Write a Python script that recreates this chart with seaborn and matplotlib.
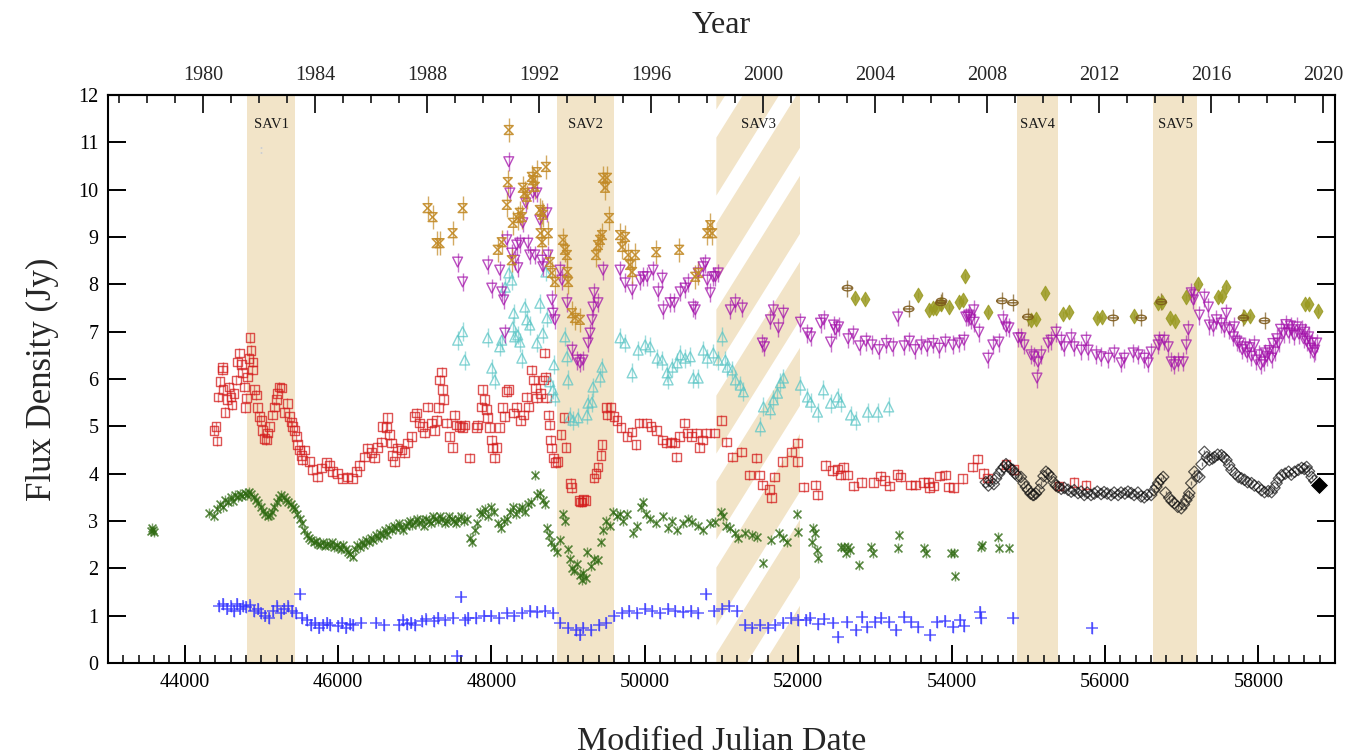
import warnings
warnings.filterwarnings('ignore')
import numpy as np
import pandas as pd
import matplotlib
matplotlib.use('Agg')
import matplotlib.pyplot as plt
import matplotlib.path as mpath
from matplotlib.patches import Polygon, Rectangle
from matplotlib.ticker import MultipleLocator, FixedLocator
import seaborn as sns

# ---------------- data ----------------
blue_mjd = [44450, 44500, 44550, 44600, 44640, 44680, 44720, 44760, 44800, 44850, 44900, 44950, 45000, 45050,
            45100, 45150, 45200, 45250, 45300, 45350, 45400, 45450, 45500, 45530, 45600, 45650, 45700, 45750,
            45800, 45850, 45900, 46000, 46050, 46100, 46150, 46200, 46300, 46500, 46600, 46800, 46850, 46900,
            46950, 47000, 47100, 47150, 47250, 47300, 47400, 47500, 47550, 47600, 47650, 47700, 47800, 47900,
            48000, 48100, 48200, 48300, 48400, 48500, 48600, 48700, 48800, 48900, 49000, 49100, 49150, 49200,
            49300, 49400, 49500, 49600, 49700, 49800, 49900, 50000, 50100, 50200, 50300, 50400, 50500, 50600,
            50700, 50800, 50900, 51000, 51100, 51200, 51300, 51400, 51500, 51600, 51700, 51800, 51900, 52000,
            52100, 52160, 52260, 52340, 52450, 52520, 52640, 52750, 52830, 52900, 53000, 53080, 53190, 53280,
            53380, 53470, 53560, 53720, 53810, 53920, 54020, 54110, 54160, 54370, 54380, 54800, 55830]
blue_flux = [1.20, 1.25, 1.15, 1.20, 1.10, 1.25, 1.15, 1.20, 1.18, 1.22, 1.10, 1.15, 1.05, 1.00,
             0.95, 1.10, 1.20, 1.05, 1.15, 1.20, 1.10, 1.05, 1.45, 0.95, 0.90, 0.80, 0.85, 0.75,
             0.80, 0.85, 0.80, 0.78, 0.85, 0.75, 0.82, 0.80, 0.85, 0.85, 0.80, 0.80, 0.90, 0.82,
             0.85, 0.80, 0.88, 0.92, 0.88, 0.95, 0.90, 0.95, 0.15, 1.40, 0.90, 0.95, 0.95, 1.00,
             1.00, 0.95, 1.05, 1.00, 1.05, 1.10, 1.08, 1.10, 1.05, 0.85, 0.75, 0.70, 0.60, 0.75,
             0.70, 0.80, 0.85, 1.00, 1.05, 1.10, 1.05, 1.15, 1.10, 1.05, 1.15, 1.10, 1.08, 1.10,
             1.05, 1.45, 1.10, 1.15, 1.20, 1.10, 0.80, 0.75, 0.80, 0.75, 0.80, 0.85, 0.95, 0.90,
             0.91, 0.95, 0.82, 0.93, 0.85, 0.55, 0.87, 0.70, 0.97, 0.76, 0.87, 0.95, 0.87, 0.70,
             0.97, 0.87, 0.76, 0.59, 0.87, 0.89, 0.76, 0.91, 0.78, 1.08, 0.95, 0.95, 0.74]

green_mjd = [43560, 43580, 43590, 43600, 44320, 44380, 44420, 44460, 44500, 44530, 44560, 44600, 44630, 44660,
             44690, 44720, 44750, 44780, 44810, 44840, 44870, 44900, 44930, 44960, 44990, 45020, 45050, 45080,
             45110, 45140, 45170, 45200, 45230, 45260, 45290, 45320, 45350, 45380, 45410, 45440, 45470, 45500,
             45530, 45560, 45590, 45620, 45650, 45680, 45710, 45740, 45770, 45800, 45830, 45860, 45890, 45920,
             45950, 45980, 46010, 46040, 46070, 46100, 46130, 46160, 46190, 46220, 46250, 46280, 46310, 46340,
             46370, 46400, 46430, 46460, 46490, 46520, 46550, 46580, 46610, 46640, 46670, 46700, 46730, 46760,
             46790, 46820, 46850, 46880, 46910, 46940, 46970, 47000, 47030, 47060, 47090, 47120, 47150, 47180,
             47210, 47240, 47270, 47300, 47330, 47360, 47390, 47420, 47450, 47480, 47510, 47540, 47570, 47600,
             47640, 47680, 47720, 47750, 47780, 47810, 47850, 47880, 47910, 47950, 47990, 48030, 48080, 48120,
             48160, 48200, 48240, 48280, 48320, 48360, 48400, 48440, 48480, 48520, 48566, 48600, 48631, 48670,
             48700, 48723, 48750, 48780, 48810, 48850, 48893, 48932, 48960, 48997, 49020, 49050, 49080, 49110,
             49150, 49180, 49200, 49230, 49246, 49300, 49340, 49390, 49430, 49455, 49500, 49540, 49580, 49638,
             49677, 49720, 49769, 49847, 49900, 49950, 49978, 50020, 50069, 50150, 50239, 50300, 50360, 50422,
             50500, 50560, 50618, 50700, 50762, 50850, 50919, 50990, 51024, 51060, 51115, 51180, 51220, 51300,
             51400, 51468, 51547, 51650, 51750, 51808, 51850, 51991, 52004, 52186, 52199, 52225, 52240, 52255,
             52552, 52591, 52620, 52656, 52682, 52787, 52944, 52970, 53297, 53310, 53636, 53662, 53989, 54028,
             54041, 54381, 54400, 54604, 54617, 54747]
green_flux = [2.78, 2.85, 2.80, 2.76, 3.17, 3.10, 3.25, 3.35, 3.30, 3.45, 3.40, 3.50, 3.42, 3.55,
              3.50, 3.58, 3.52, 3.60, 3.55, 3.62, 3.58, 3.50, 3.45, 3.38, 3.30, 3.22, 3.15, 3.10,
              3.12, 3.20, 3.30, 3.40, 3.48, 3.55, 3.50, 3.45, 3.40, 3.35, 3.30, 3.25, 3.15, 3.05,
              2.95, 2.80, 2.70, 2.65, 2.60, 2.55, 2.58, 2.52, 2.50, 2.55, 2.48, 2.52, 2.50, 2.55,
              2.45, 2.50, 2.45, 2.40, 2.50, 2.40, 2.35, 2.30, 2.25, 2.40, 2.50, 2.45, 2.55, 2.50,
              2.60, 2.55, 2.65, 2.60, 2.70, 2.65, 2.75, 2.70, 2.80, 2.72, 2.85, 2.80, 2.90, 2.85,
              2.95, 2.88, 2.80, 2.90, 2.95, 3.00, 2.92, 2.98, 3.05, 2.95, 3.02, 2.90, 3.05, 3.00,
              2.95, 3.10, 3.05, 3.00, 3.10, 3.05, 2.95, 3.00, 3.10, 3.05, 3.00, 2.95, 3.05, 3.10,
              3.00, 3.05, 2.65, 2.55, 2.80, 2.95, 3.20, 3.15, 3.25, 3.10, 3.30, 3.20, 2.95, 2.85,
              3.00, 3.05, 3.20, 3.30, 3.15, 3.25, 3.30, 3.20, 3.35, 3.40, 3.97, 3.55, 3.60, 3.45,
              3.35, 2.85, 2.70, 2.55, 2.45, 2.35, 2.60, 3.15, 3.00, 2.40, 2.20, 2.00, 1.95, 2.10,
              1.85, 1.75, 1.90, 1.80, 2.35, 2.05, 2.20, 2.18, 2.55, 2.80, 3.00, 2.90, 3.20, 3.10,
              3.15, 3.00, 3.15, 2.75, 2.90, 3.30, 3.40, 3.15, 3.05, 2.95, 3.10, 2.85, 3.00, 2.80,
              2.95, 3.05, 2.98, 2.90, 2.80, 2.95, 2.98, 3.20, 3.10, 2.90, 2.85, 2.75, 2.64, 2.75,
              2.70, 2.66, 2.11, 2.60, 2.75, 2.65, 2.55, 3.15, 2.77, 2.56, 2.85, 2.75, 2.39, 2.22,
              2.45, 2.45, 2.32, 2.45, 2.39, 2.07, 2.45, 2.32, 2.43, 2.70, 2.43, 2.32, 2.32, 2.32,
              1.84, 2.45, 2.50, 2.66, 2.43, 2.43]

red_mjd = [44383, 44409, 44420, 44435, 44461, 44488, 44495, 44501, 44527, 44553, 44579, 44605, 44618, 44644,
           44671, 44684, 44710, 44736, 44749, 44775, 44788, 44801, 44814, 44840, 44853, 44866, 44880, 44890,
           44906, 44932, 44945, 44971, 44997, 45010, 45036, 45062, 45075, 45102, 45141, 45167, 45193, 45206,
           45232, 45259, 45298, 45337, 45363, 45389, 45402, 45428, 45455, 45468, 45494, 45520, 45533, 45559,
           45625, 45664, 45729, 45782, 45847, 45886, 45925, 45991, 46056, 46121, 46187, 46239, 46278, 46343,
           46382, 46435, 46474, 46513, 46566, 46579, 46631, 46644, 46670, 46696, 46709, 46736, 46775, 46827,
           46866, 46906, 46958, 46997, 47023, 47063, 47102, 47128, 47167, 47220, 47259, 47285, 47311, 47324,
           47350, 47363, 47375, 47415, 47455, 47494, 47520, 47546, 47585, 47624, 47651, 47716, 47808, 47821,
           47873, 47886, 47912, 47938, 47951, 47978, 48004, 48017, 48043, 48069, 48108, 48148, 48174, 48200,
           48226, 48291, 48330, 48383, 48422, 48461, 48487, 48527, 48553, 48579, 48592, 48644, 48683, 48696,
           48710, 48723, 48749, 48760, 48775, 48788, 48814, 48840, 48866, 48906, 48945, 48971, 49036, 49049,
           49141, 49160, 49180, 49200, 49233, 49337, 49363, 49389, 49428, 49441, 49494, 49507, 49559, 49598,
           49637, 49690, 49768, 49834, 49886, 49925, 50017, 50082, 50148, 50226, 50278, 50344, 50383, 50409,
           50448, 50514, 50553, 50605, 50670, 50709, 50749, 50801, 50906, 50997, 51063, 51141, 51259, 51363,
           51455, 51494, 51533, 51625, 51651, 51690, 51795, 51912, 51991, 51995, 52070, 52226, 52252, 52357,
           52448, 52513, 52552, 52592, 52644, 52722, 52827, 52984, 53075, 53127, 53193, 53297, 53337, 53468,
           53533, 53637, 53703, 53710, 53768, 53846, 53925, 53964, 54029, 54147, 54278, 54343, 54421, 54473,
           54709, 54813, 55401, 55597, 55754]
red_flux = [4.92, 5.00, 4.69, 5.62, 5.94, 6.19, 6.25, 5.77, 5.30, 5.56, 5.83, 5.62, 5.45, 5.70,
            5.98, 6.36, 6.55, 6.30, 6.13, 5.83, 5.39, 5.60, 6.04, 6.44, 6.87, 6.61, 6.19, 6.36,
            5.77, 5.66, 5.39, 5.20, 5.13, 4.92, 4.75, 4.71, 4.86, 5.00, 5.24, 5.41, 5.56, 5.70,
            5.83, 5.81, 5.30, 5.49, 5.20, 5.09, 5.00, 4.92, 4.78, 4.61, 4.50, 4.39, 4.29, 4.50,
            4.25, 4.08, 3.93, 4.12, 4.23, 4.18, 4.04, 4.00, 3.90, 3.93, 3.90, 4.04, 4.18, 4.35,
            4.54, 4.44, 4.33, 4.56, 4.67, 5.00, 4.97, 5.18, 4.82, 4.65, 4.39, 4.25, 4.54, 4.50,
            4.44, 4.65, 4.78, 5.20, 5.28, 5.07, 5.00, 4.86, 5.41, 5.07, 4.92, 5.13, 5.39, 5.98,
            6.15, 5.77, 5.56, 5.07, 4.78, 4.56, 5.24, 5.03, 5.00, 4.97, 5.03, 4.33, 4.97, 5.03,
            5.41, 5.77, 5.56, 5.35, 5.18, 4.97, 4.71, 4.54, 4.33, 4.56, 4.97, 5.39, 5.20, 5.73,
            5.77, 5.28, 5.41, 5.13, 5.24, 5.62, 5.41, 6.19, 5.98, 5.81, 5.60, 5.70, 5.98, 6.55,
            6.04, 5.60, 5.24, 5.03, 4.71, 4.54, 4.33, 4.23, 4.25, 4.82, 5.18, 4.56, 3.80, 3.70,
            3.44, 3.40, 3.40, 3.45, 3.44, 3.91, 4.01, 4.14, 4.39, 4.61, 5.39, 5.24, 5.41, 5.20,
            5.13, 4.97, 4.78, 4.88, 4.61, 5.07, 5.07, 5.00, 4.92, 4.71, 4.65, 4.67, 4.65, 4.35,
            4.78, 5.07, 4.86, 4.78, 4.86, 4.56, 4.71, 4.86, 4.86, 5.13, 4.67, 4.35, 4.46, 3.97,
            4.33, 3.97, 3.76, 3.66, 3.49, 3.93, 4.25, 4.46, 4.25, 4.65, 3.72, 3.76, 3.55, 4.18,
            4.06, 4.10, 3.97, 4.14, 3.97, 3.74, 3.82, 3.82, 3.95, 3.85, 3.74, 3.99, 3.93, 3.76,
            3.76, 3.82, 3.82, 3.70, 3.74, 3.95, 3.97, 3.72, 3.70, 3.89, 4.14, 4.31, 4.01, 3.91,
            4.20, 4.08, 3.74, 3.82, 3.76]

black_mjd = [54447, 54480, 54500, 54551, 54580, 54620, 54650, 54682, 54710, 54740, 54770, 54800, 54830, 54860,
             54904, 54940, 54970, 54996, 55030, 55060, 55074, 55100, 55140, 55170, 55200, 55231, 55260, 55297,
             55330, 55360, 55388, 55430, 55470, 55519, 55560, 55600, 55649, 55690, 55730, 55770, 55819, 55860,
             55900, 55950, 55989, 56030, 56080, 56120, 56172, 56210, 56260, 56300, 56342, 56380, 56430, 56470,
             56512, 56550, 56603, 56640, 56670, 56694, 56730, 56760, 56790, 56839, 56870, 56904, 56950, 56995,
             57030, 57061, 57090, 57100, 57126, 57166, 57200, 57231, 57260, 57297, 57330, 57362, 57400, 57427,
             57470, 57519, 57550, 57584, 57620, 57650, 57700, 57741, 57780, 57820, 57860, 57911, 57950, 58003,
             58040, 58081, 58130, 58173, 58210, 58238, 58270, 58303, 58350, 58395, 58430, 58474, 58520, 58565,
             58600, 58630, 58660, 58696, 58730, 58760, 58787]
black_flux = [3.82, 3.75, 3.85, 3.78, 3.90, 4.00, 4.08, 4.14, 4.20, 4.15, 4.10, 4.08, 4.00, 3.95,
              3.93, 3.80, 3.72, 3.66, 3.58, 3.55, 3.55, 3.58, 3.66, 3.80, 3.95, 4.04, 4.00, 3.93,
              3.82, 3.75, 3.72, 3.68, 3.70, 3.66, 3.62, 3.65, 3.59, 3.62, 3.55, 3.60, 3.55, 3.58,
              3.62, 3.57, 3.61, 3.58, 3.55, 3.60, 3.55, 3.60, 3.58, 3.62, 3.59, 3.55, 3.60, 3.52,
              3.50, 3.55, 3.55, 3.65, 3.72, 3.80, 3.88, 3.93, 3.60, 3.49, 3.42, 3.38, 3.30, 3.27,
              3.35, 3.44, 3.52, 3.59, 3.80, 4.04, 3.95, 3.93, 4.20, 4.46, 4.35, 4.29, 4.32, 4.35,
              4.40, 4.39, 4.35, 4.29, 4.18, 4.08, 4.00, 3.93, 3.90, 3.87, 3.82, 3.80, 3.75, 3.72,
              3.65, 3.61, 3.63, 3.61, 3.70, 3.80, 3.90, 3.97, 4.00, 4.04, 3.98, 4.04, 4.08, 4.12,
              4.10, 4.14, 4.05, 3.93, 3.85, 3.80, 3.76]

cyan_mjd = [47559, 47624, 47651, 47951, 48004, 48043, 48108, 48134, 48180, 48226, 48265, 48278, 48290, 48304,
            48343, 48370, 48396, 48435, 48461, 48500, 48592, 48631, 48670, 48710, 48723, 48762, 48801, 48815,
            48827, 48958, 48984, 48997, 49023, 49063, 49128, 49246, 49259, 49311, 49324, 49416, 49442, 49677,
            49743, 49834, 49913, 50004, 50069, 50161, 50226, 50291, 50304, 50357, 50422, 50461, 50526, 50592,
            50631, 50696, 50762, 50814, 50893, 50958, 51011, 51050, 51076, 51141, 51181, 51246, 51285, 51507,
            51547, 51638, 51677, 51730, 51769, 51808, 52030, 52121, 52161, 52252, 52330, 52422, 52513, 52553,
            52683, 52748, 52905, 53036, 53180]
cyan_flux = [6.82, 7.00, 6.40, 6.87, 6.23, 5.98, 6.68, 6.82, 7.94, 8.24, 8.09, 7.10, 7.39, 6.89,
             6.93, 6.78, 6.44, 7.52, 7.25, 7.14, 6.76, 7.60, 6.97, 8.26, 7.29, 5.94, 5.77, 6.30,
             5.62, 6.89, 6.47, 5.98, 5.20, 5.13, 5.18, 5.24, 5.49, 5.51, 5.83, 6.04, 6.25, 6.87,
             6.76, 6.13, 6.61, 6.72, 6.68, 6.44, 6.40, 6.13, 5.98, 6.25, 6.34, 6.51, 6.44, 6.47,
             6.02, 6.02, 6.61, 6.44, 6.55, 6.40, 6.89, 6.40, 6.25, 6.19, 5.98, 5.87, 5.73, 4.99,
             5.41, 5.35, 5.56, 5.70, 5.92, 6.02, 5.87, 5.62, 5.51, 5.30, 5.77, 5.49, 5.62, 5.51,
             5.24, 5.13, 5.30, 5.30, 5.41]

mag_mjd = [47559, 47624, 47951, 48004, 48108, 48134, 48160, 48174, 48200, 48226, 48240, 48265, 48304, 48330,
           48343, 48370, 48409, 48448, 48474, 48500, 48540, 48566, 48592, 48631, 48657, 48670, 48723, 48736,
           48788, 48801, 48827, 48893, 48919, 48984, 49050, 49115, 49154, 49193, 49259, 49285, 49311, 49324,
           49337, 49389, 49455, 49677, 49743, 49834, 49938, 49978, 50030, 50108, 50173, 50226, 50239, 50330,
           50383, 50461, 50526, 50566, 50631, 50657, 50696, 50761, 50788, 50814, 50853, 50893, 50919, 50958,
           51115, 51181, 51272, 51533, 51560, 51638, 51677, 51743, 51808, 52030, 52121, 52161, 52291, 52331,
           52422, 52461, 52487, 52527, 52650, 52720, 52800, 52880, 52960, 53050, 53150, 53230, 53297, 53380,
           53450, 53520, 53600, 53680, 53760, 53840, 53920, 54016, 54094, 54160, 54186, 54212, 54225, 54251,
           54290, 54295, 54356, 54473, 54538, 54617, 54669, 54709, 54748, 54866, 54905, 54944, 55035, 55075,
           55114, 55127, 55166, 55258, 55297, 55362, 55427, 55467, 55558, 55597, 55689, 55754, 55780, 55885,
           55950, 56042, 56120, 56211, 56251, 56368, 56433, 56512, 56564, 56603, 56694, 56707, 56773, 56825,
           56864, 56904, 56956, 57022, 57061, 57087, 57126, 57153, 57166, 57231, 57297, 57349, 57362, 57414,
           57453, 57519, 57558, 57584, 57623, 57675, 57689, 57720, 57754, 57790, 57820, 57850, 57885, 57910,
           57950, 57975, 58003, 58030, 58068, 58090, 58107, 58140, 58173, 58190, 58212, 58240, 58264, 58290,
           58329, 58360, 58395, 58420, 58434, 58470, 58500, 58530, 58565, 58590, 58604, 58630, 58656, 58680,
           58696, 58720, 58735, 58761]
mag_flux = [8.47, 8.05, 8.41, 7.92, 8.30, 7.84, 7.67, 6.97, 8.94, 10.59, 9.93, 8.66, 8.51, 8.83,
            8.35, 8.87, 9.30, 9.72, 8.87, 8.62, 9.93, 8.62, 9.93, 9.36, 8.51, 8.37, 9.51, 8.62,
            7.67, 7.39, 7.25, 8.30, 8.09, 7.61, 6.61, 6.40, 6.34, 6.40, 6.76, 6.97, 7.25, 7.52,
            7.82, 7.61, 8.30, 8.30, 8.03, 7.88, 8.09, 8.16, 8.16, 8.30, 7.84, 8.13, 7.46, 7.61,
            7.61, 7.84, 7.92, 8.03, 7.52, 7.46, 8.24, 8.37, 8.45, 8.09, 7.82, 8.16, 8.16, 8.24,
            7.46, 7.61, 7.50, 6.76, 6.68, 7.25, 7.46, 7.08, 7.39, 7.20, 6.97, 6.89, 7.18, 7.25,
            6.78, 7.14, 7.04, 7.10, 6.85, 6.95, 6.70, 6.80, 6.72, 6.62, 6.75, 6.68, 7.31, 6.70,
            6.80, 6.62, 6.72, 6.68, 6.75, 6.65, 6.78, 6.72, 6.76, 6.82, 7.31, 7.31, 7.35, 7.25,
            7.46, 7.20, 6.99, 6.44, 6.72, 6.78, 7.25, 7.10, 7.08, 6.87, 6.87, 6.72, 6.51, 6.47,
            6.02, 6.36, 6.51, 6.76, 6.82, 6.99, 6.82, 6.68, 6.87, 6.68, 6.61, 6.82, 6.61, 6.51,
            6.47, 6.44, 6.55, 6.34, 6.44, 6.55, 6.51, 6.44, 6.34, 6.57, 6.72, 6.82, 6.82, 6.68,
            6.36, 6.30, 6.36, 6.36, 6.72, 7.04, 7.82, 7.67, 7.78, 7.35, 7.73, 7.52, 7.14, 7.10,
            7.25, 7.18, 7.08, 7.39, 7.04, 6.89, 7.10, 6.80, 6.76, 6.62, 6.68, 6.55, 6.66, 6.48,
            6.72, 6.40, 6.51, 6.30, 6.36, 6.55, 6.47, 6.60, 6.44, 6.75, 6.57, 6.85, 6.76, 7.05,
            6.97, 7.15, 6.97, 7.12, 7.04, 6.92, 7.10, 6.95, 7.04, 6.85, 6.99, 6.80, 6.89, 6.65,
            6.76, 6.55, 6.61, 6.76]

gold_mjd = [47167, 47233, 47285, 47324, 47494, 47624, 48082, 48134, 48200, 48213, 48226, 48265, 48278, 48343,
            48370, 48396, 48409, 48435, 48461, 48527, 48540, 48566, 48592, 48631, 48640, 48657, 48660, 48670,
            48710, 48736, 48762, 48788, 48827, 48932, 48958, 48984, 48990, 49000, 49050, 49089, 49154, 49363,
            49389, 49416, 49442, 49455, 49481, 49507, 49533, 49677, 49703, 49743, 49782, 49808, 49834, 49873,
            50148, 50448, 50657, 50696, 50814, 50853, 50879]
gold_flux = [9.61, 9.42, 8.87, 8.87, 9.08, 9.61, 8.73, 8.89, 9.68, 10.16, 11.26, 8.51, 9.30, 9.40,
             9.51, 9.42, 10.04, 9.93, 9.85, 10.27, 10.20, 10.06, 10.37, 9.57, 9.08, 9.53, 8.89, 9.47,
             10.48, 9.08, 8.47, 8.24, 8.05, 8.94, 8.73, 8.62, 8.26, 8.05, 7.39, 7.29, 7.25, 8.62,
             8.83, 8.94, 9.04, 10.25, 10.04, 10.25, 9.40, 9.04, 8.79, 9.00, 8.62, 8.41, 8.26, 8.62,
             8.68, 8.73, 8.16, 8.24, 9.08, 9.25, 9.08]

olive_mjd = [52747, 52865, 53557, 53701, 53753, 53793, 53858, 53963, 54094, 54146, 54172, 54473, 55035, 55100,
             55218, 55453, 55531, 55897, 55963, 56381, 56695, 56747, 56852, 56917, 57061, 57218, 57479, 57531,
             57584, 57819, 57897, 58603, 58656, 58773]
olive_flux = [7.71, 7.69, 7.78, 7.46, 7.50, 7.50, 7.59, 7.52, 7.63, 7.67, 8.18, 7.42, 7.25, 7.27,
              7.82, 7.37, 7.42, 7.29, 7.31, 7.33, 7.61, 7.63, 7.29, 7.23, 7.73, 8.01, 7.73, 7.75,
              7.94, 7.31, 7.33, 7.59, 7.59, 7.44]

brown_mjd = [52643, 53441, 53859, 53870, 54656, 54800, 54996, 56107, 56473, 56734, 57806, 58081]
brown_flux = [7.92, 7.48, 7.61, 7.65, 7.65, 7.61, 7.31, 7.29, 7.29, 7.63, 7.29, 7.23]

odd_mjd = [45000]
odd_flux = [10.84]

sav_names = ['SAV1', 'SAV2', 'SAV3', 'SAV4', 'SAV5']
sav_start = [44814, 48855, 50933, 54853, 56629]
sav_end = [45442, 49600, 52030, 55389, 57204]
sav_hatched = [False, False, True, False, False]

mjd_ticks = [44000, 46000, 48000, 50000, 52000, 54000, 56000, 58000]
flux_ticks = [0, 1, 2, 3, 4, 5, 6, 7, 8, 9, 10, 11, 12]
year_ticks = [1980, 1984, 1988, 1992, 1996, 2000, 2004, 2008, 2012, 2016, 2020]

# ---------------- style ----------------
sns.set_theme(style='ticks')
plt.rcParams['font.family'] = ['Liberation Serif', 'DejaVu Serif']
plt.rcParams['axes.linewidth'] = 1.5

TAN = '#f2e4c8'

fig = plt.figure(figsize=(13.72, 7.56), dpi=100)
ax = fig.add_axes([108 / 1372, 1 - 663 / 756, (1335 - 108) / 1372, (663 - 95) / 756])
ax.set_xlim(43000, 59000)
ax.set_ylim(0, 12)

# bands
for name, a, b, hat in zip(sav_names, sav_start, sav_end, sav_hatched):
    if not hat:
        ax.axvspan(a, b, facecolor=TAN, edgecolor='none', zorder=0)
    else:
        rect = Rectangle((a, 0), b - a, 12, transform=ax.transData, facecolor='none', edgecolor='none')
        ax.add_patch(rect)
        px0, py0 = ax.transData.transform((a, 0))
        px1, py1 = ax.transData.transform((b, 12))
        inv = ax.transData.inverted()
        k = 1.6
        period = 86.0
        tanw = 58.0
        w = px1 - px0
        c = -k * w - period
        while c < (py1 - py0) + period:
            pts = [(px0, py0 + c), (px1, py0 + c + k * w), (px1, py0 + c + k * w + tanw), (px0, py0 + c + tanw)]
            poly = Polygon(inv.transform(pts), closed=True, facecolor=TAN, edgecolor='none', zorder=0)
            ax.add_patch(poly)
            poly.set_clip_path(rect)
            c += period
    ax.text((a + b) / 2, 11.37, name, ha='center', va='center', fontsize=10.5, color='#1a1a1a', zorder=6)

# markers
hour = mpath.Path([(-1, 1), (1, 1), (-1, -1), (1, -1), (-1, 1)],
                  [mpath.Path.MOVETO, mpath.Path.LINETO, mpath.Path.LINETO, mpath.Path.LINETO, mpath.Path.CLOSEPOLY])
circ = mpath.Path.unit_circle()
ell = mpath.Path(circ.vertices * np.array([1.4, 0.75]), circ.codes)
hline = mpath.Path([(-1.4, 0), (1.4, 0)], [mpath.Path.MOVETO, mpath.Path.LINETO])
brown_marker = mpath.Path.make_compound_path(ell, hline)


def plot_series(x, y, err, color, marker, size, lw, alpha, filled=False, z=3):
    ax.errorbar(x, y, yerr=err, fmt='none', ecolor=color, elinewidth=1.0, alpha=alpha * 0.8,
                zorder=z - 0.5, capsize=0)
    df = pd.DataFrame({'mjd': x, 'flux': y})
    if marker in ('+', 'x'):
        sns.scatterplot(data=df, x='mjd', y='flux', marker=marker, s=size, color=color, linewidth=lw,
                        alpha=alpha, ax=ax, zorder=z, legend=False)
    else:
        sns.scatterplot(data=df, x='mjd', y='flux', marker=marker, s=size,
                        facecolor=(color if filled else 'none'), edgecolor=color, linewidth=lw,
                        alpha=alpha, ax=ax, zorder=z, legend=False)


plot_series(blue_mjd, blue_flux, 0.12, '#2b2bff', '+', 70, 1.1, 0.75)
plot_series(green_mjd, green_flux, 0.1, '#2f6a12', 'x', 32, 1.2, 0.8)
plot_series(red_mjd, red_flux, 0.1, '#d41c1c', 's', 40, 1.0, 0.75)
plot_series(cyan_mjd, cyan_flux, 0.2, '#5cc6c6', '^', 50, 1.0, 0.75)
plot_series(mag_mjd, mag_flux, 0.2, '#a312aa', 'v', 50, 1.0, 0.75, z=4)
plot_series(gold_mjd, gold_flux, 0.25, '#c28a26', hour, 40, 1.1, 0.9, z=4)
plot_series(olive_mjd, olive_flux, 0.06, '#9a9a22', 'd', 55, 0.8, 0.85, filled=True, z=4)
plot_series(brown_mjd, brown_flux, 0.18, '#7d5a1c', brown_marker, 55, 1.0, 0.9, z=4)
plot_series(black_mjd, black_flux, 0.04, '#111111', 'D', 34, 0.9, 0.7, z=5)
sns.scatterplot(x=black_mjd[-1:], y=black_flux[-1:], marker='D', s=90, color='black', ax=ax, zorder=5,
                legend=False)
sns.scatterplot(x=odd_mjd, y=odd_flux, marker='$:$', s=25, color='#444444', ax=ax, zorder=5, legend=False)

# axes
ax.set_xlim(43000, 59000)
ax.set_ylim(0, 12)
ax.set_xticks(mjd_ticks)
ax.set_xticklabels([str(t) for t in mjd_ticks])
ax.set_yticks(flux_ticks)
ax.set_yticklabels([str(t) for t in flux_ticks])
ax.xaxis.set_minor_locator(MultipleLocator(200))
ax.tick_params(which='major', direction='in', length=13, width=1.4, labelsize=14.5, right=True, top=False,
               colors='black', pad=7)
ax.tick_params(axis='x', which='minor', direction='in', length=6, width=1.3, top=False)
ax.tick_params(axis='y', which='minor', left=False, right=False)
for sp in ax.spines.values():
    sp.set_visible(True)
    sp.set_linewidth(1.5)
    sp.set_color('black')

ax.set_xlabel('Modified Julian Date', fontsize=24.5, labelpad=25)
ax.set_ylabel('Flux Density (Jy)', fontsize=25, labelpad=14)


def mjd2yr(m):
    return 1980.0 + (np.asarray(m) - 44239.0) / 365.25


def yr2mjd(y):
    return 44239.0 + (np.asarray(y) - 1980.0) * 365.25


sec = ax.secondary_xaxis('top', functions=(mjd2yr, yr2mjd))
sec.xaxis.set_major_locator(FixedLocator(year_ticks))
sec.xaxis.set_minor_locator(MultipleLocator(1))
sec.tick_params(which='major', direction='in', length=13, width=1.4, labelsize=14.5, pad=7)
sec.tick_params(which='minor', direction='in', length=6, width=1.3)
sec.spines['top'].set_linewidth(1.5)
sec.set_xlabel('Year', fontsize=23, labelpad=24)

fig.savefig('out.png', dpi=100)
